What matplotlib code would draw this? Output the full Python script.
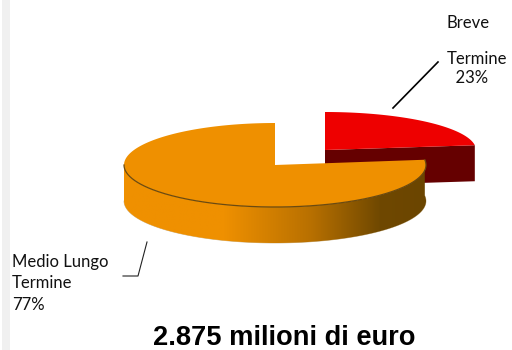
import numpy as np
import matplotlib
matplotlib.use("Agg")
import matplotlib.pyplot as plt
from matplotlib.patches import Polygon, Rectangle
from matplotlib.colors import LinearSegmentedColormap

labels = ["Breve\n\nTermine\n  23%", "Medio Lungo\nTermine\n77%"]
shares = [23, 77]
title = "2.875 milioni di euro"

# ellipse sizes of the two exploded slices
RX, DEPTH = 151, 36
RY_RED, RY_ORANGE = 38, 42
red_c = (325, 150)
orange_c = (275, 165)


def arc(c, ry, a0, a1, n=200):
    t = np.radians(np.linspace(a0, a1, n))
    return np.column_stack([c[0] + RX * np.cos(t), c[1] - ry * np.sin(t)])


fig = plt.figure(figsize=(5.12, 3.5), dpi=100)
ax = fig.add_axes([0, 0, 1, 1])
ax.axis("off")

ax.add_patch(Rectangle((2, 0), 8, 350, color="#f0f0f0", lw=0))

# slices go clockwise from 12 o'clock
split = 90 - shares[0] / sum(shares) * 360

# red slice: cut wall, rim, top
top = arc(red_c, RY_RED, 90, split)
end = top[-1]
ax.add_patch(Polygon([red_c, end, end + [0, DEPTH], (red_c[0], red_c[1] + DEPTH)],
                     color="#650000", lw=0, zorder=2))
ax.add_patch(Polygon(np.vstack([[red_c], top]), color="#ee0000", lw=0, zorder=3))

# orange slice rim with the horizontal shading
rim_top = arc(orange_c, RY_ORANGE, 180, 360 + split)
rim = np.vstack([rim_top, (rim_top + [0, DEPTH])[::-1]])
shade = LinearSegmentedColormap.from_list(
    "rim", [(0, "#ef9000"), (0.33, "#ef9000"), (0.62, "#b87000"), (0.85, "#6f4800"), (1, "#6b4500")])
img = ax.imshow(np.linspace(0, 1, 256)[None, :], cmap=shade, aspect="auto",
                extent=(orange_c[0] - RX, orange_c[0] + RX, 250, 120), zorder=4)
patch = Polygon(rim, fc="none", lw=0, transform=ax.transData)
ax.add_patch(patch)
img.set_clip_path(patch)
ax.set_xlim(0, 512)
ax.set_ylim(350, 0)

# orange top, open over the red slice
o_top = arc(orange_c, RY_ORANGE, 90, 360 + split)
ax.add_patch(Polygon(np.vstack([[orange_c], o_top]), fc="#ef9000", ec="none", zorder=5))
ax.plot(*rim_top.T, color="#6b4a10", lw=0.9, zorder=6)
ax.plot(*(rim_top + [0, DEPTH]).T, color="#c9b48c", lw=0.5, zorder=3)

# leader lines
ax.plot([393, 438], [108, 62], color="black", lw=1.2, zorder=7)
ax.plot([123, 138, 147], [276, 276, 242], color="#222222", lw=0.8, zorder=7)

font = ["Lato", "DejaVu Sans"]
ax.text(447, 15, labels[0], family=font, fontsize=12, va="top", ha="left", linespacing=1.17, color="#111111")
ax.text(12, 254, labels[1], family=font, fontsize=12, va="top", ha="left", linespacing=1.42, color="#111111")
ax.text(284, 338, title, family="Liberation Sans", fontsize=19.6, weight="bold",
        ha="center", va="center")

fig.savefig("out.png", dpi=100)
